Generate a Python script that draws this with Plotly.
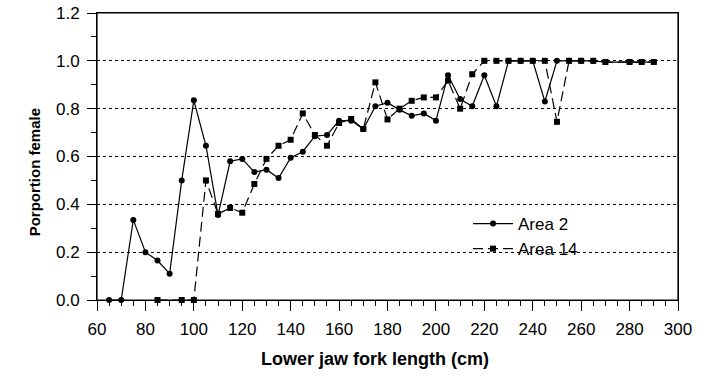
import plotly.graph_objects as go

# Area 2 (circles, solid line)
area2_x = [65, 70, 75, 80, 85, 90, 95, 100, 105, 110, 115, 120, 125, 130, 135, 140,
           145, 150, 155, 160, 165, 170, 175, 180, 185, 190, 195, 200, 205, 210,
           215, 220, 225, 230, 235, 240, 245, 250, 255, 260, 265, 270, 280, 285, 290]
area2_y = [0.0, 0.0, 0.335, 0.20, 0.165, 0.11, 0.50, 0.835, 0.645, 0.355, 0.58, 0.59,
           0.535, 0.545, 0.51, 0.595, 0.62, 0.685, 0.69, 0.75, 0.75, 0.715, 0.81, 0.825,
           0.795, 0.77, 0.78, 0.75, 0.94, 0.84, 0.81, 0.94, 0.81, 1.0, 1.0, 1.0, 0.83,
           1.0, 1.0, 1.0, 1.0, 0.995, 0.995, 0.995, 0.995]

# Area 14 (squares, dashed line)
area14_x = [85, 95, 100, 105, 110, 115, 120, 125, 130, 135, 140, 145, 150, 155, 160,
            165, 170, 175, 180, 185, 190, 195, 200, 205, 210, 215, 220, 225, 230, 235,
            240, 245, 250, 255, 260, 265, 270, 280, 285, 290]
area14_y = [0.0, 0.0, 0.0, 0.50, 0.36, 0.385, 0.365, 0.485, 0.59, 0.645, 0.67, 0.78,
            0.69, 0.645, 0.74, 0.757, 0.715, 0.91, 0.755, 0.80, 0.833, 0.847, 0.847,
            0.917, 0.80, 0.944, 1.0, 1.0, 1.0, 1.0, 1.0, 1.0, 0.745, 1.0, 1.0, 1.0,
            0.995, 0.995, 0.995, 0.995]

x_ticks = [60, 80, 100, 120, 140, 160, 180, 200, 220, 240, 260, 280, 300]
y_ticks = [0.0, 0.2, 0.4, 0.6, 0.8, 1.0, 1.2]

FONT = "Liberation Sans, Arial, Helvetica, sans-serif"

fig = go.Figure()
fig.add_trace(go.Scatter(
    x=area2_x, y=area2_y, name="Area 2", mode="lines+markers",
    line=dict(color="black", width=1.2),
    marker=dict(symbol="circle", size=6, color="black"),
    cliponaxis=False,
))
fig.add_trace(go.Scatter(
    x=area14_x, y=area14_y, name="Area 14", mode="lines+markers",
    line=dict(color="black", width=1.2, dash="10px,5px"),
    marker=dict(symbol="square", size=6, color="black"),
    cliponaxis=False,
))

fig.update_layout(
    width=717, height=376,
    margin=dict(l=97, r=39, t=13, b=76, autoexpand=False),
    paper_bgcolor="white", plot_bgcolor="white",
    font=dict(family=FONT, size=17, color="black"),
    showlegend=True,
    legend=dict(
        x=0.6386, y=0.3275, xanchor="left", yanchor="top",
        bgcolor="rgba(0,0,0,0)", borderwidth=0,
        font=dict(family=FONT, size=17, color="black"),
        tracegroupgap=0, itemwidth=40,
    ),
    xaxis=dict(
        range=[60, 300], tickvals=x_ticks, ticktext=[str(v) for v in x_ticks],
        ticks="outside", ticklen=10, tickwidth=1, tickcolor="black",
        minor=dict(dtick=5, tick0=60, ticks="outside", ticklen=5, tickcolor="black", showgrid=False),
        showline=True, linecolor="black", linewidth=1, mirror=True,
        showgrid=False, zeroline=False, ticklabelstandoff=4, automargin=False,
        ticklabeloverflow="allow",
        tickfont=dict(family=FONT, size=17),
    ),
    yaxis=dict(
        range=[0, 1.2], tickvals=y_ticks, ticktext=[f"{v:.1f}" for v in y_ticks],
        ticks="outside", ticklen=9, tickwidth=1, tickcolor="black",
        minor=dict(dtick=0.1, tick0=0, ticks="outside", ticklen=5, tickcolor="black", showgrid=False),
        showline=True, linecolor="black", linewidth=1, mirror=True,
        showgrid=True, gridcolor="black", gridwidth=1, griddash="dot",
        zeroline=False, ticklabelstandoff=4, automargin=False,
        ticklabeloverflow="allow",
        tickfont=dict(family=FONT, size=17),
    ),
    shapes=[
        # plot frame (box around the plotting area)
        dict(type="rect", xref="paper", yref="paper", x0=0, y0=0, x1=1, y1=1,
             line=dict(color="black", width=1.2), fillcolor="rgba(0,0,0,0)", layer="above"),
    ],
    annotations=[
        dict(text="<b>Lower jaw fork length (cm)</b>", xref="paper", yref="paper",
             x=0.479, y=-0.1638, xanchor="center", yanchor="top", showarrow=False,
             font=dict(family=FONT, size=18)),
        dict(text="<b>Porportion female</b>", xref="paper", yref="paper",
             x=-0.1084, y=0.445, xanchor="center", yanchor="middle", showarrow=False,
             textangle=-90, font=dict(family=FONT, size=15)),
    ],
)

# remove the default page margin so the figure sits at the window's top-left corner
fig.write_html("out.html", config={"displayModeBar": False},
               post_script="document.body.style.margin='0';")
